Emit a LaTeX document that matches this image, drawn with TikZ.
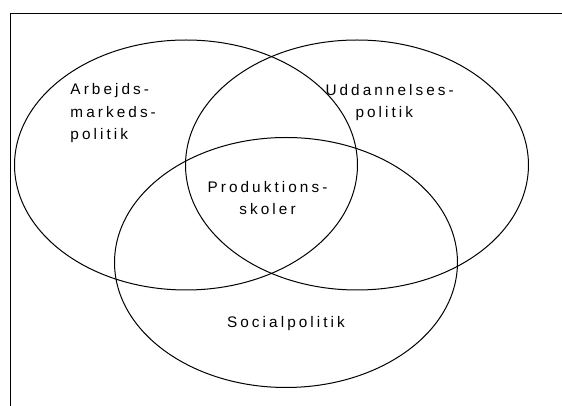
\documentclass[tikz,border=0pt]{standalone}
\usepackage{fontspec}
\setmainfont{Liberation Sans}[LetterSpace=20]
\tikzset{every picture/.style={line width=0.75pt}}
\tikzset{vennlabel/.style={inner sep=0pt,font=\fontsize{11.5pt}{16.9pt}\selectfont}}

\begin{document}
\begin{tikzpicture}[x=0.75pt,y=0.75pt,yscale=-1,xscale=1]
\useasboundingbox (0,0) rectangle (562,406);

%Straight Lines
\draw    (10,406) -- (10,14) -- (562,14) ;
%Shape: Ellipse
\draw   (186,165) ellipse [x radius=128.6pt, y radius=93.75pt] ;
%Shape: Ellipse
\draw   (357,165) ellipse [x radius=128.6pt, y radius=93.75pt] ;
%Shape: Ellipse
\draw   (286,262.5) ellipse [x radius=128.6pt, y radius=93.75pt] ;

% Text Node
\node (arbejds) [vennlabel, anchor=base west, align=left] at (70,140) {Arbejds-\\markeds-\\politik};
% Text Node
\node (uddannelses) [vennlabel, anchor=base west, align=left] at (325,118) {Uddannelses-\\\hspace*{22.5pt}politik};
% Text Node
\node (produktion) [vennlabel, anchor=base, align=center] at (267.5,215) {Produktions-\\skoler};
% Text Node
\node (social) [vennlabel, anchor=base] at (286,328) {Socialpolitik};

\end{tikzpicture}
\end{document}
